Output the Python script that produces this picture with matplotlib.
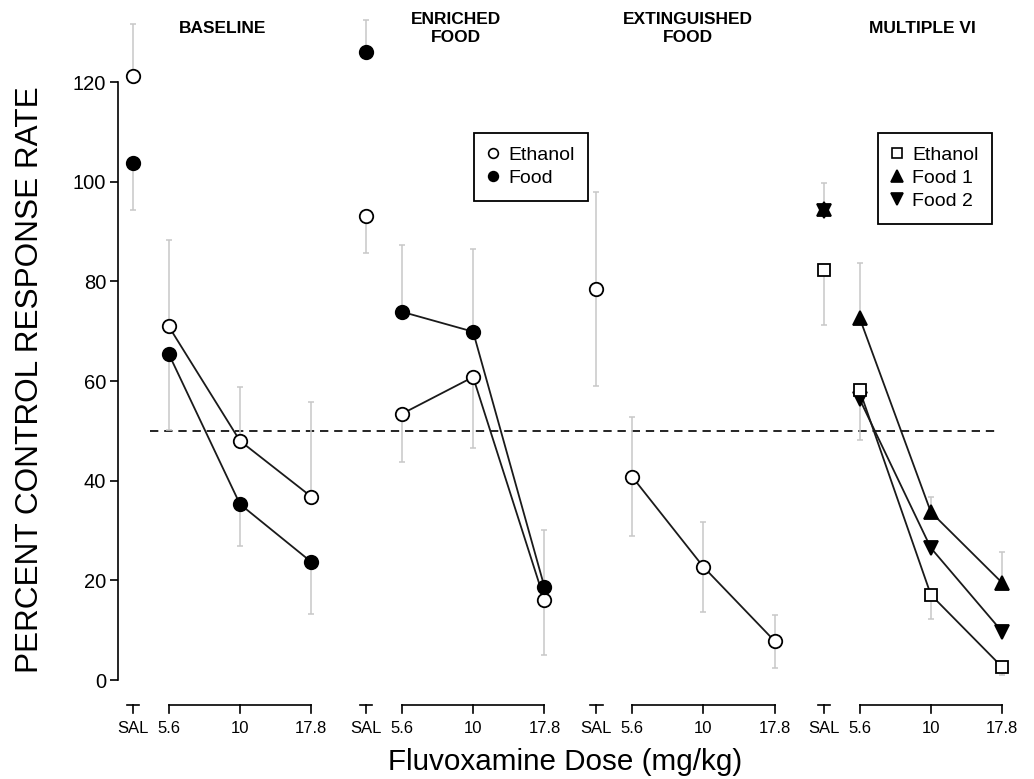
import numpy as np
import matplotlib
matplotlib.use('Agg')
import matplotlib.pyplot as plt
from matplotlib.lines import Line2D

plt.rcParams['font.family'] = ['Liberation Sans', 'DejaVu Sans']

# doses shown in every panel
dose_labels = ['SAL', '5.6', '10', '17.8']
panel_titles = ['BASELINE', 'ENRICHED\nFOOD', 'EXTINGUISHED\nFOOD', 'MULTIPLE VI']

# baseline
bl_eth = [121.3, 71.0, 48.0, 36.8]
bl_eth_up = [10.4, 17.4, 10.8, 19.0]
bl_food = [103.8, 65.5, 35.3, 23.7]
bl_food_dn = [9.4, 15.3, 8.4, 10.4]

# enriched food
en_eth = [93.2, 53.4, 60.8, 16.1]
en_eth_dn = [7.5, 9.6, 14.2, 11.1]
en_food = [126.1, 73.9, 69.9, 18.7]
en_food_up = [6.4, 13.4, 16.6, 11.4]

# extinguished food
ex_eth = [78.5, 40.8, 22.7, 7.8]
ex_err = [19.5, 12.0, 9.0, 5.3]

# multiple VI
mv_eth = [82.3, 58.2, 17.1, 2.6]
mv_eth_dn = [11.0, 10.0, 4.9, 1.6]
mv_f1 = [94.6, 72.7, 33.7, 19.5]
mv_f1_up = [5.2, 11.0, 3.0, 6.2]
mv_f2 = [94.2, 56.4, 26.5, 9.7]

dose_pos = np.array([-0.5, 0, 1, 2])
panel_off = [0, 3.27, 6.5, 9.69]
title_x = [0.76, 4.03, 7.28, 10.57]

fig = plt.figure(figsize=(10.34, 7.79), dpi=100)
ax = fig.add_axes([118/1034, 39.2/779, 897/1034, 732.5/779])
ax.set_xlim(-0.71, 11.87)
ax.set_ylim(-12, 135)


def series(off, y, up=None, dn=None, marker='o', fc='white', ms=9.7, z=3):
    x = off + dose_pos
    y = np.array(y)
    lo = np.zeros(4) if dn is None else np.array(dn)
    hi = np.zeros(4) if up is None else np.array(up)
    if up is not None or dn is not None:
        ax.errorbar(x, y, yerr=[lo, hi], fmt='none', ecolor='#c8c8c8',
                    elinewidth=1.1, capsize=2, capthick=1.1, zorder=1)
    ax.plot(x[1:], y[1:], color='#1a1a1a', lw=1.3, zorder=2)
    ax.plot(x, y, ls='none', marker=marker, ms=ms, mfc=fc, mec='black',
            mew=1.3, zorder=z)


series(panel_off[0], bl_eth, up=bl_eth_up)
series(panel_off[0], bl_food, dn=bl_food_dn, fc='black')
series(panel_off[1], en_eth, dn=en_eth_dn)
series(panel_off[1], en_food, up=en_food_up, fc='black')
series(panel_off[2], ex_eth, up=ex_err, dn=ex_err)
series(panel_off[3], mv_f2, marker='v', fc='black', ms=9.7, z=3)
series(panel_off[3], mv_f1, up=mv_f1_up, marker='^', fc='black', ms=9.7, z=3)
series(panel_off[3], mv_eth, dn=mv_eth_dn, marker='s', ms=8.7, z=4)

ax.plot([-0.26, 11.63], [50, 50], color='black', lw=1.2, ls=(0, (5, 3.5)), zorder=0)

# panel titles
for tx, t in zip(title_x, panel_titles):
    ax.text(tx, 130.8, t, ha='center', va='center', fontsize=12.5,
            fontweight='bold', linespacing=1.25)

# custom x axis brackets
yb, yt, yl = -5.0, -6.6, -9.8
for off in panel_off:
    s = off - 0.5
    ax.plot([s - 0.085, s + 0.085], [yb, yb], color='black', lw=1.2, clip_on=False)
    ax.plot([s, s], [yb, yt], color='black', lw=1.2, clip_on=False)
    ax.plot([off, off + 2], [yb, yb], color='black', lw=1.2, clip_on=False)
    for k in range(3):
        ax.plot([off + k, off + k], [yb, yt], color='black', lw=1.2, clip_on=False)
    for p, lab in zip(dose_pos, dose_labels):
        ax.text(off + p, yl, lab, ha='center', va='center', fontsize=12)

for sp in ['top', 'right', 'bottom']:
    ax.spines[sp].set_visible(False)
ax.spines['left'].set_bounds(0, 120)
ax.spines['left'].set_linewidth(1.2)
ax.set_xticks([])
ax.set_yticks(np.arange(0, 121, 20))
ax.tick_params(axis='y', labelsize=14.5, length=5.5, width=1.2, pad=3)

fig.text(30/1034, 1 - 380/779, 'PERCENT CONTROL RESPONSE RATE', rotation=90,
         ha='center', va='center', fontsize=22.7)
fig.text(565/1034, 1 - 770/779, 'Fluvoxamine Dose (mg/kg)', ha='center',
         va='baseline', fontsize=21.3)

leg_kw = dict(loc='upper left', fontsize=14, frameon=True, fancybox=False,
              edgecolor='black', framealpha=1, handlelength=0.6,
              handletextpad=0.45, labelspacing=0.27, borderpad=0.7,
              borderaxespad=0)

h1 = [Line2D([], [], ls='none', marker='o', ms=7, mfc='white', mec='black', mew=1.2),
      Line2D([], [], ls='none', marker='o', ms=7, mfc='black', mec='black', mew=1.2)]
leg1 = fig.legend(h1, ['Ethanol', 'Food'],
                  bbox_to_anchor=(474/1034, 1 - 133/779), **leg_kw)
leg1.get_frame().set_linewidth(1.3)

h2 = [Line2D([], [], ls='none', marker='s', ms=6.5, mfc='white', mec='black', mew=1.2),
      Line2D([], [], ls='none', marker='^', ms=8, mfc='black', mec='black', mew=1.2),
      Line2D([], [], ls='none', marker='v', ms=8, mfc='black', mec='black', mew=1.2)]
leg2 = fig.legend(h2, ['Ethanol', 'Food 1', 'Food 2'],
                  bbox_to_anchor=(878/1034, 1 - 133/779), **leg_kw)
leg2.get_frame().set_linewidth(1.3)

fig.savefig('out.png', dpi=100)
